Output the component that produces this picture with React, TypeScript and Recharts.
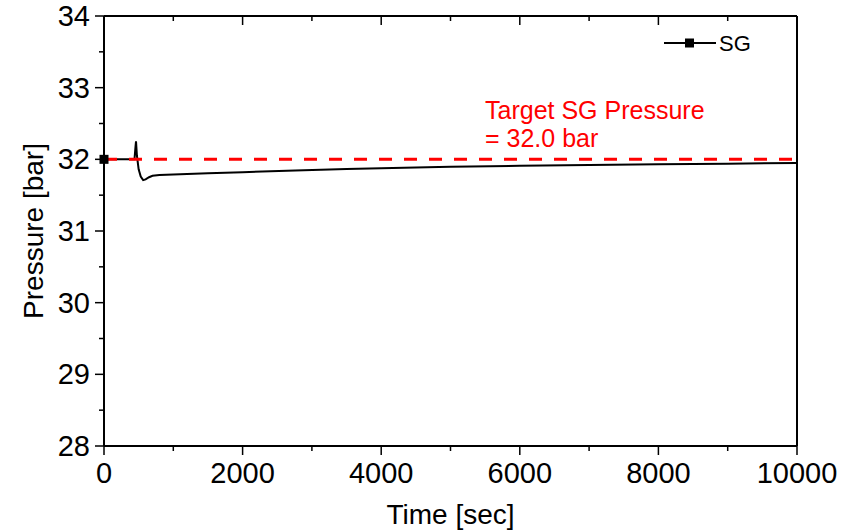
import React from 'react';
import {
  LineChart,
  Line,
  XAxis,
  YAxis,
  ReferenceLine,
} from 'recharts';

// time [sec] and SG pressure [bar]
const times = [
  0, 100, 200, 300, 440, 455, 462, 475, 500, 530, 565, 600, 650, 700, 800,
  1000, 1500, 2000, 2760, 3500, 4000, 5000, 6000, 7000, 8000, 9000, 10000,
];
const pressures = [
  32.0, 32.0, 32.0, 32.0, 32.0, 32.18, 32.25, 32.05, 31.86, 31.76, 31.71, 31.72,
  31.75, 31.77, 31.78, 31.79, 31.805, 31.82, 31.845, 31.865, 31.875, 31.895,
  31.91, 31.92, 31.93, 31.94, 31.95,
];

const xTicks = [0, 1000, 2000, 3000, 4000, 5000, 6000, 7000, 8000, 9000, 10000];
const xMajor = [0, 2000, 4000, 6000, 8000, 10000];
const yTicks = [28, 28.5, 29, 29.5, 30, 30.5, 31, 31.5, 32, 32.5, 33, 33.5, 34];
const yMajor = [28, 29, 30, 31, 32, 33, 34];

const targetPressure = 32.0;
const seriesName = 'SG';

const data = times.map((t, i) => ({ t, p: pressures[i] }));

const FONT = '"Liberation Sans", Arial, sans-serif';
const MAJOR = 9;
const MINOR = 5;

// dir=1 -> tick points out (bottom/left), dir=-1 -> in (top/right)
const makeXTick = (dir: number, showLabel: boolean) => (props: any) => {
  const { x, y, payload } = props;
  const major = xMajor.includes(payload.value);
  const len = major ? MAJOR : MINOR;
  return (
    <g>
      <line x1={x} x2={x} y1={y} y2={y + dir * len} stroke="#000" strokeWidth={1.5} />
      {showLabel && major && (
        <text x={x} y={y + 37} textAnchor="middle" fontSize={29} fontFamily={FONT} fill="#000">
          {payload.value}
        </text>
      )}
    </g>
  );
};

const makeYTick = (dir: number, showLabel: boolean) => (props: any) => {
  const { x, y, payload } = props;
  const major = yMajor.includes(payload.value);
  const len = major ? MAJOR : MINOR;
  return (
    <g>
      <line x1={x} x2={x - dir * len} y1={y} y2={y} stroke="#000" strokeWidth={1.5} />
      {showLabel && major && (
        <text x={x - 14} y={y + 10} textAnchor="end" fontSize={29} fontFamily={FONT} fill="#000">
          {payload.value}
        </text>
      )}
    </g>
  );
};

const LegendBox = () => (
  <svg width={110} height={30} style={{ display: 'block' }}>
    <line x1={4} x2={56} y1={13} y2={13} stroke="#000" strokeWidth={2} />
    <rect x={25} y={8.5} width={9} height={9} fill="#000" />
    <text x={59} y={21} fontSize={22} fontFamily={FONT} fill="#000">
      {seriesName}
    </text>
  </svg>
);

export default function App() {
  return (
    <div style={{ position: 'absolute', left: 0, top: 0, background: '#fff' }}>
      <LineChart
        width={859}
        height={532}
        data={data}
        margin={{ top: 16, right: 62, bottom: 0, left: 0 }}
      >
        <XAxis
          xAxisId="bottom"
          dataKey="t"
          type="number"
          domain={[0, 10000]}
          ticks={xTicks}
          interval={0}
          height={86}
          tickSize={0}
          tickMargin={0}
          tickLine={false}
          axisLine={{ stroke: '#000', strokeWidth: 2 }}
          tick={makeXTick(1, true)}
          label={(p: any) => {
            const vb = p.viewBox;
            return (
              <text
                x={vb.x + vb.width / 2}
                y={vb.y + 78}
                textAnchor="middle"
                fontSize={28}
                fontFamily={FONT}
                fill="#000"
              >
                Time [sec]
              </text>
            );
          }}
        />
        <XAxis
          xAxisId="top"
          orientation="top"
          dataKey="t"
          type="number"
          domain={[0, 10000]}
          ticks={xTicks}
          interval={0}
          height={1}
          mirror
          tickSize={0}
          tickMargin={0}
          tickLine={false}
          axisLine={{ stroke: '#000', strokeWidth: 2 }}
          tick={makeXTick(1, false)}
        />
        <YAxis
          yAxisId="left"
          type="number"
          domain={[28, 34]}
          ticks={yTicks}
          interval={0}
          width={104}
          tickSize={0}
          tickMargin={0}
          tickLine={false}
          axisLine={{ stroke: '#000', strokeWidth: 2 }}
          tick={makeYTick(1, true)}
          label={(p: any) => {
            const vb = p.viewBox;
            const cx = vb.x + 33;
            const cy = vb.y + vb.height / 2;
            return (
              <text
                x={cx}
                y={cy}
                transform={`rotate(-90 ${cx} ${cy})`}
                textAnchor="middle"
                dominantBaseline="central"
                fontSize={28}
                fontFamily={FONT}
                fill="#000"
              >
                Pressure [bar]
              </text>
            );
          }}
        />
        <YAxis
          yAxisId="right"
          orientation="right"
          type="number"
          domain={[28, 34]}
          ticks={yTicks}
          interval={0}
          width={1}
          mirror
          tickSize={0}
          tickMargin={0}
          tickLine={false}
          axisLine={{ stroke: '#000', strokeWidth: 2 }}
          tick={makeYTick(1, false)}
        />
        <Line
          xAxisId="bottom"
          yAxisId="left"
          dataKey="p"
          name={seriesName}
          stroke="#000"
          strokeWidth={2}
          isAnimationActive={false}
          dot={(props: any) =>
            props.index === 0 ? (
              <rect
                key={`d-${props.index}`}
                x={props.cx - 4.5}
                y={props.cy - 4.5}
                width={9}
                height={9}
                fill="#000"
              />
            ) : (
              <g key={`d-${props.index}`} />
            )
          }
          activeDot={false}
        />
        <ReferenceLine
          xAxisId="bottom"
          yAxisId="left"
          y={targetPressure}
          stroke="#ff0000"
          strokeWidth={3}
          strokeDasharray="13 12"
          label={(p: any) => {
            const vb = p.viewBox;
            return (
              <text fontSize={25} fontFamily={FONT} fill="#ff0000">
                <tspan x={vb.x + 381} y={vb.y - 40}>Target SG Pressure</tspan>
                <tspan x={vb.x + 381} y={vb.y - 12}>= {targetPressure.toFixed(1)} bar</tspan>
              </text>
            );
          }}
        />
      </LineChart>
      <div style={{ position: 'absolute', left: 660, top: 30 }}>
        <LegendBox />
      </div>
    </div>
  );
}
